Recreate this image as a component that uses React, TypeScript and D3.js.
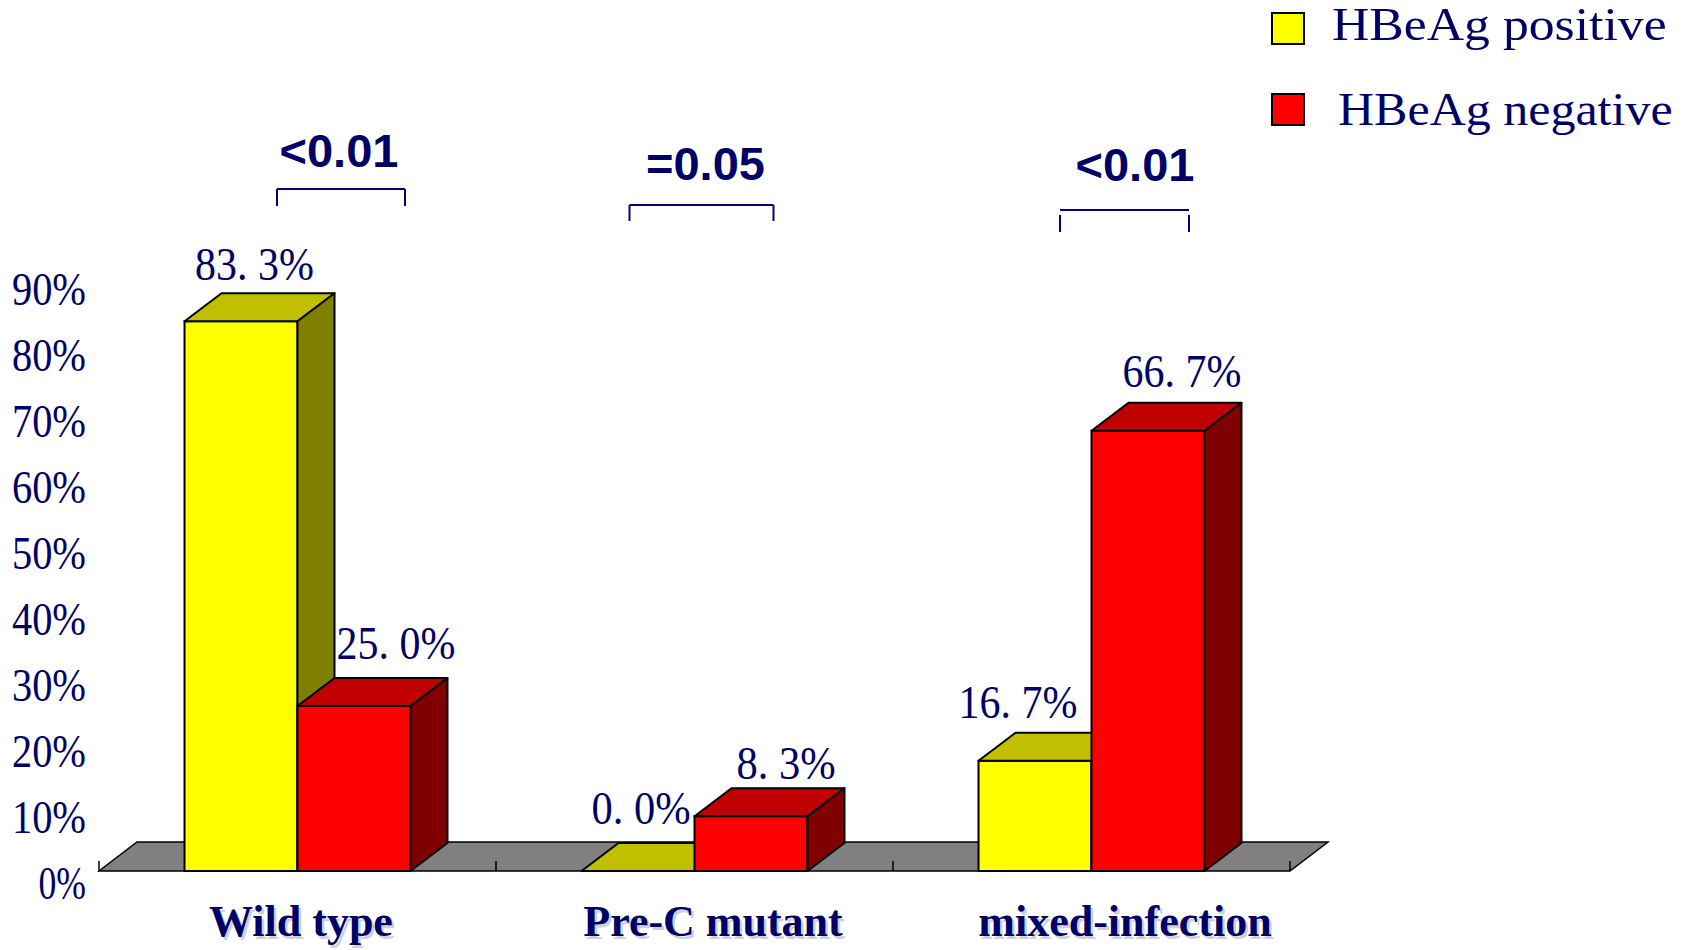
import React from "react";
import * as d3 from "d3";

const categories = ["Wild type", "Pre-C mutant", "mixed-infection"];
const seriesNames = ["HBeAg positive", "HBeAg negative"];
const positiveValues = [83.3, 0.0, 16.7];
const negativeValues = [25.0, 8.3, 66.7];
const yTicks = [0, 10, 20, 30, 40, 50, 60, 70, 80, 90];
const pValues = ["<0.01", "=0.05", "<0.01"];

// annotation placement (manual, as in the original slide)
const labelDx = [[-5, 23.5], [-15.5, 16.5], [-35.5, 15.5]];
const labelDy = [[29, 35], [35, 25], [30, 31]];
const bracketL = [-20.5, -65, -31.5];
const bracketR = [107.5, 79, 97.5];
const bracketTop = [189, 205, 210];
const legTop = [189, 205, 215];
const legBottom = [206, 221, 232];
const pTextDx = [41.5, 11, 43.5];
const pTextY = [150, 163, 164];

const NAVY = "#000066";
const faceColors = [
  { front: "#FFFF00", top: "#C0C000", side: "#808000" },
  { front: "#FF0000", top: "#C00000", side: "#800000" },
];

const W = 1690;
const H = 950;
const DX = 37;
const DY = -28;

export default function App() {
  const x = d3.scaleBand<string>().domain(categories).range([99, 1290]).paddingInner(0).paddingOuter(0);
  const xs = d3.scaleBand<string>().domain(seriesNames).range([0, x.bandwidth()]).paddingInner(0).paddingOuter(0.757);
  const y = d3.scaleLinear().domain([0, 100]).range([871, 211]);
  const xLabel = d3.scaleBand<string>().domain(categories).range([95, 1331]);
  const bw = xs.bandwidth();
  const y0 = y(0);
  const values = [positiveValues, negativeValues];

  const pts = (p: [number, number][]) => p.map((q) => q.join(",")).join(" ");

  const floorL = x.range()[0];
  const floorR = x.range()[1];

  const fmt = (v: number) => {
    const s = v.toFixed(1).split(".");
    return `${s[0]}. ${s[1]}%`;
  };

  return (
    <svg width={W} height={H} style={{ position: "absolute", left: 0, top: 0, background: "#fff" }}>
      {/* floor */}
      <polygon
        points={pts([[floorL, y0], [floorR, y0], [floorR + DX + 1, y0 + DY - 1], [floorL + DX + 1, y0 + DY - 1]])}
        fill="#808080"
        stroke="#000"
        strokeWidth={1.5}
      />
      {[floorL, ...categories.map((c) => (x(c) as number) + x.bandwidth())].map((tx, i) => (
        <line key={"t" + i} x1={tx} x2={tx} y1={y0} y2={y0 - 10} stroke="#000" strokeWidth={1.5} />
      ))}
      {/* y tick labels */}
      {yTicks.map((t) => {
        const txt = `${t}%`;
        const digits = txt.length - 1;
        return (
          <text
            key={"y" + t}
            x={86}
            y={y(t) + 12}
            textAnchor="end"
            dominantBaseline="central"
            fontFamily="'Liberation Serif', serif"
            fontSize={46}
            fill={NAVY}
            textLength={digits * 26.5 + 21}
            lengthAdjust="spacingAndGlyphs"
          >
            {txt}
          </text>
        );
      })}
      {/* bars */}
      {categories.map((c, ci) => (
        <g key={c}>
          {seriesNames.map((s, si) => {
            const v = values[si][ci];
            const x0 = (x(c) as number) + (xs(s) as number);
            const x1 = x0 + bw;
            const yt = y(v);
            const col = faceColors[si];
            const h = y0 - yt;
            return (
              <g key={s}>
                {h > 0.5 && (
                  <rect x={x0} y={yt} width={bw} height={h} fill={col.front} stroke="#000" strokeWidth={2} />
                )}
                <polygon
                  points={pts([[x0, yt], [x1, yt], [x1 + DX, yt + DY], [x0 + DX, yt + DY]])}
                  fill={col.top}
                  stroke="#000"
                  strokeWidth={2}
                  strokeLinejoin="round"
                />
                {h > 0.5 && (
                  <polygon
                    points={pts([[x1, yt], [x1 + DX, yt + DY], [x1 + DX, y0 + DY], [x1, y0]])}
                    fill={col.side}
                    stroke="#000"
                    strokeWidth={2}
                    strokeLinejoin="round"
                  />
                )}
              </g>
            );
          })}
        </g>
      ))}
      {/* data labels */}
      {categories.map((c, ci) =>
        seriesNames.map((s, si) => {
          const v = values[si][ci];
          const cx = (x(c) as number) + (xs(s) as number) + bw / 2 + DX / 2 + labelDx[ci][si];
          const cy = y(v) + DY - labelDy[ci][si];
          const txt = fmt(v);
          return (
            <text
              key={c + s}
              x={cx}
              y={cy}
              textAnchor="middle"
              dominantBaseline="central"
              fontFamily="'Liberation Serif', serif"
              fontSize={46}
              fill={NAVY}
              textLength={txt.length * 19.8}
              lengthAdjust="spacingAndGlyphs"
            >
              {txt}
            </text>
          );
        })
      )}
      {/* category labels */}
      {categories.map((c) => {
        const cx = (xLabel(c) as number) + xLabel.bandwidth() / 2;
        return (
          <g key={"c" + c}>
            <text x={cx + 2.5} y={938.5} textAnchor="middle" fontFamily="'Liberation Serif', serif" fontWeight="bold" fontSize={44} fill="#d0d0d8">
              {c}
            </text>
            <text x={cx} y={936} textAnchor="middle" fontFamily="'Liberation Serif', serif" fontWeight="bold" fontSize={44} fill={NAVY}>
              {c}
            </text>
          </g>
        );
      })}
      {/* p-value annotations */}
      {categories.map((c, ci) => {
        const gc = (x(c) as number) + x.bandwidth() / 2;
        const l = gc + bracketL[ci];
        const r = gc + bracketR[ci];
        return (
          <g key={"p" + c}>
            <line x1={l} x2={r} y1={bracketTop[ci]} y2={bracketTop[ci]} stroke="#000080" strokeWidth={2} />
            <line x1={l} x2={l} y1={legTop[ci]} y2={legBottom[ci]} stroke="#000080" strokeWidth={2} />
            <line x1={r} x2={r} y1={legTop[ci]} y2={legBottom[ci]} stroke="#000080" strokeWidth={2} />
            <text
              x={gc + pTextDx[ci]}
              y={pTextY[ci]}
              textAnchor="middle"
              dominantBaseline="central"
              fontFamily="'Liberation Sans', Arial, sans-serif"
              fontWeight="bold"
              fontSize={47}
              fill={NAVY}
            >
              {pValues[ci]}
            </text>
          </g>
        );
      })}
      {/* legend */}
      {seriesNames.map((s, si) => (
        <g key={"l" + s}>
          <rect x={1272} y={13 + si * 81} width={32} height={31} fill={faceColors[si].front} stroke="#000" strokeWidth={2} />
          <text
            x={1332 + si * 6}
            y={40 + si * 85}
            fontFamily="'Liberation Serif', serif"
            fontSize={46}
            fill={NAVY}
            textLength={s.length * 23.9}
            lengthAdjust="spacingAndGlyphs"
          >
            {s}
          </text>
        </g>
      ))}
    </svg>
  );
}
